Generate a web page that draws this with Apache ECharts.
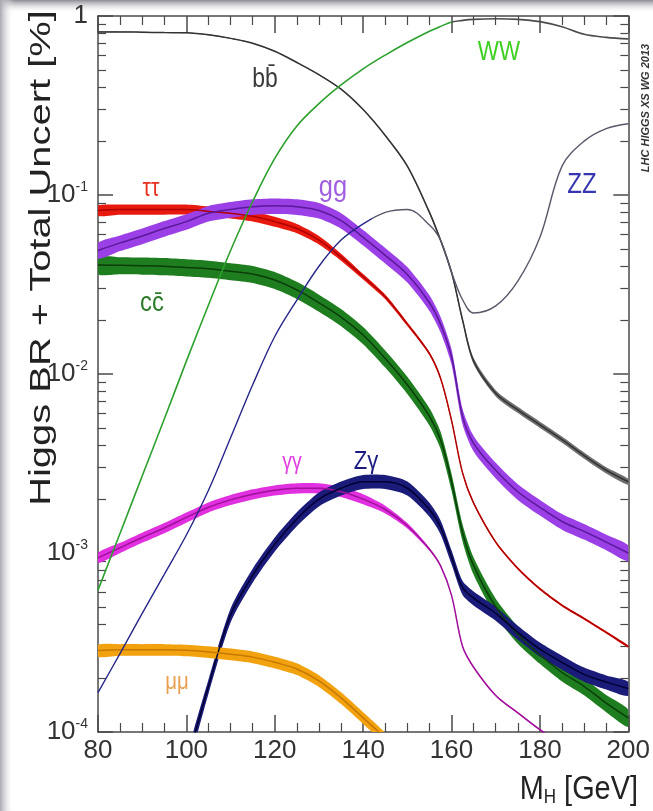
<!DOCTYPE html>
<html><head><meta charset="utf-8">
<script src="https://cdn.jsdelivr.net/npm/echarts@6/dist/echarts.min.js"></script>
<style>html,body{margin:0;padding:0;background:#fff}#c{width:653px;height:811px}</style>
</head><body><div id="c"></div>
<script>
// Higgs mass grid (GeV)
const mass = [80,85,90,95,100,105,110,115,120,125,130,135,140,145,150,155,157.5,160,162.5,165,170,175,180,185,190,195,200];

// Branching ratios
const brBB = [0.815,0.815,0.812,0.808,0.805,0.785,0.75,0.705,0.635,0.55,0.47,0.39,0.30,0.215,0.145,0.080,0.056,0.037,0.020,0.0118,0.0078,0.0063,0.0052,0.0043,0.0035,0.0029,0.0025];
const brTT = [0.082,0.083,0.083,0.083,0.083,0.081,0.079,0.076,0.071,0.065,0.056,0.045,0.035,0.027,0.019,0.0130,0.0095,0.0055,0.0028,0.0019,0.00115,0.00082,0.00063,0.00051,0.00043,0.00036,0.00030];
const brGG = [0.049,0.054,0.059,0.065,0.071,0.079,0.083,0.086,0.087,0.086,0.082,0.072,0.058,0.046,0.036,0.025,0.019,0.0125,0.0058,0.0041,0.0029,0.0022,0.0018,0.0015,0.00132,0.00115,0.00100];
const brCC = [0.0406,0.0405,0.0403,0.0400,0.0394,0.0387,0.0375,0.0362,0.0335,0.0295,0.0250,0.0208,0.0165,0.0122,0.0087,0.0058,0.0043,0.0025,0.0013,0.00085,0.00050,0.00035,0.00027,0.000215,0.00018,0.000145,0.00012];
const brAA = [9.4e-4,1.07e-3,1.22e-3,1.38e-3,1.58e-3,1.8e-3,1.98e-3,2.13e-3,2.24e-3,2.3e-3,2.3e-3,2.2e-3,2.0e-3,1.75e-3,1.42e-3,1.05e-3,8.5e-4,5.8e-4,3.0e-4,2.3e-4,1.6e-4,1.28e-4,1.03e-4,8.5e-5,7.0e-5,6.0e-5,5.0e-5];
const brZA = [null,null,null,null,6.6e-5,1.8e-4,4.5e-4,7.5e-4,1.12e-3,1.55e-3,2.0e-3,2.3e-3,2.5e-3,2.5e-3,2.3e-3,1.75e-3,1.4e-3,9.5e-4,6.4e-4,5.6e-4,4.6e-4,3.6e-4,2.9e-4,2.45e-4,2.1e-4,1.9e-4,1.75e-4];
const brMM = [2.85e-4,2.88e-4,2.88e-4,2.88e-4,2.86e-4,2.80e-4,2.72e-4,2.62e-4,2.45e-4,2.25e-4,1.93e-4,1.55e-4,1.2e-4,9.2e-5,6.6e-5,4.6e-5,null,null,null,null,null,null,null,null,null,null,null];
const brWW = [6.2e-4,1.29e-3,2.69e-3,5.6e-3,0.0118,0.0243,0.049,0.092,0.160,0.243,0.324,0.412,0.507,0.605,0.711,0.822,0.875,0.925,0.945,0.958,0.965,0.958,0.93,0.87,0.79,0.76,0.745];
const brZZ = [1.66e-4,2.75e-4,4.6e-4,7.6e-4,1.26e-3,2.24e-3,4.4e-3,8.7e-3,0.0162,0.0259,0.040,0.056,0.069,0.080,0.083,0.068,0.056,0.037,0.026,0.0219,0.024,0.033,0.058,0.145,0.20,0.235,0.25];

// Relative total uncertainties (band half-widths)
const uncBB = [0.006,0.006,0.006,0.006,0.006,0.006,0.006,0.006,0.006,0.006,0.006,0.006,0.008,0.01,0.015,0.02,0.025,0.03,0.035,0.04,0.04,0.04,0.04,0.04,0.04,0.04,0.04];
const uncTT = [0.065,0.065,0.065,0.065,0.065,0.065,0.065,0.065,0.065,0.06,0.055,0.045,0.035,0.03,0.025,0.02,0.02,0.018,0.015,0.015,0.015,0.015,0.015,0.015,0.015,0.015,0.015];
const uncGG = [0.10,0.10,0.10,0.10,0.10,0.10,0.10,0.10,0.10,0.10,0.10,0.10,0.10,0.10,0.10,0.10,0.10,0.10,0.10,0.10,0.10,0.10,0.10,0.10,0.10,0.10,0.10];
const uncCC = [0.11,0.11,0.11,0.11,0.11,0.11,0.11,0.11,0.11,0.11,0.11,0.11,0.11,0.11,0.11,0.11,0.11,0.11,0.11,0.11,0.11,0.11,0.11,0.11,0.11,0.11,0.11];
const uncAA = [0.065,0.065,0.065,0.065,0.065,0.065,0.065,0.065,0.065,0.065,0.065,0.065,0.065,0.05,0.035,0.02,0.015,0.01,0.01,0.01,0.01,0.01,0.01,0.01,0.01,0.01,0.01];
const uncZA = [0.09,0.09,0.09,0.09,0.09,0.09,0.09,0.09,0.09,0.09,0.09,0.09,0.09,0.09,0.09,0.09,0.09,0.09,0.09,0.09,0.09,0.09,0.09,0.09,0.09,0.09,0.09];
const uncMM = [0.075,0.075,0.075,0.075,0.075,0.075,0.075,0.075,0.075,0.075,0.075,0.075,0.075,0.075,0.075,0.075,0.075,0.075,0.075,0.075,0.075,0.075,0.075,0.075,0.075,0.075,0.075];

// Axis ticks
const xTicksMajor = [80,100,120,140,160,180,200];
const yTicksMajor = [1e-4,1e-3,1e-2,1e-1,1];
const yTicksMinor = [];
for (let d = -4; d < 0; d++) { for (let k = 2; k <= 9; k++) yTicksMinor.push(k * Math.pow(10, d)); }

// Masses where the thin WW / ZZ curves change colour in the picture
const wwColourSwitch = 160;
const zzColourSwitch = 142;

const FONT = '"Liberation Sans",Arial,Helvetica,sans-serif';
const SM = 0.35;

function pairs(vals) { return mass.map((m, i) => [m, vals[i] == null ? '-' : vals[i]]); }

function bandSeries(id, vals, unc, color) {
  const rows = [];
  mass.forEach((m, i) => { if (vals[i] != null) rows.push([m, vals[i] * (1 - unc[i]), vals[i] * (1 + unc[i])]); });
  return {
    type: 'custom', name: id + ' band', coordinateSystem: 'cartesian2d', xAxisIndex: 0, yAxisIndex: 0,
    data: rows, encode: { x: 0, y: [1, 2] }, silent: true, clip: true,
    renderItem: function (params, api) {
      if (params.dataIndex !== 0) return null;
      const top = rows.map(r => api.coord([r[0], r[2]]));
      const bot = rows.map(r => api.coord([r[0], r[1]])).reverse();
      const cs = params.coordSys;
      return {
        type: 'group',
        clipPath: { type: 'rect', shape: { x: cs.x, y: cs.y, width: cs.width, height: cs.height } },
        children: [{ type: 'polygon', shape: { points: top.concat(bot), smooth: 0.25 }, style: { fill: color, stroke: null } }]
      };
    }
  };
}
function centerLine(id, vals, color) {
  return { type: 'line', name: id, data: pairs(vals), symbol: 'none', smooth: SM,
    lineStyle: { width: 1.5, color: color } };
}

const series = [
  bandSeries('bb', brBB, uncBB, '#707070'), centerLine('bb', brBB, '#333333'),
  bandSeries('tautau', brTT, uncTT, '#e8190f'), centerLine('tautau', brTT, '#b00000'),
  bandSeries('cc', brCC, uncCC, '#1e7d1e'), centerLine('cc', brCC, '#0b3d0b'),
  bandSeries('gg', brGG, uncGG, '#9b3fe6'), centerLine('gg', brGG, '#5a1a9a'),
  bandSeries('gamgam', brAA, uncAA, '#e030e0'), centerLine('gamgam', brAA, '#a0109a'),
  bandSeries('Zgam', brZA, uncZA, '#1b1b7a'), centerLine('Zgam', brZA, '#000033'),
  bandSeries('mumu', brMM, uncMM, '#f2a20f'), centerLine('mumu', brMM, '#c77800')
];
const wwSeries = { type: 'line', name: 'WW', data: pairs(brWW), symbol: 'none', smooth: SM, lineStyle: { width: 1.6, color: '#2ca02c' } };
const zzSeries = { type: 'line', name: 'ZZ', data: pairs(brZZ), symbol: 'none', smooth: SM, lineStyle: { width: 1.4, color: '#26268a' } };
series.push(wwSeries, zzSeries);

const axisLineStyle = { color: '#4a4a4a', width: 1.5 };

function yLabel(v) {
  const e = Math.round(Math.log10(v));
  if (e === 0) return '{b|1}';
  return '{b|10}{s|' + e + '}';
}

const option = {
  animation: false,
  backgroundColor: '#ffffff',
  grid: { left: 98, right: 16, top: 16, bottom: 79, containLabel: false },
  xAxis: [
    { type: 'value', min: 80, max: 200, interval: 20, position: 'bottom',
      axisLine: { show: true, lineStyle: axisLineStyle },
      axisTick: { show: true, inside: true, length: 17, lineStyle: axisLineStyle },
      minorTick: { show: true, splitNumber: 4, length: 9, lineStyle: { color: '#4a4a4a', width: 1.2 } },
      splitLine: { show: false },
      axisLabel: { show: true, margin: 6, fontSize: 26, color: '#333', fontFamily: FONT, customValues: xTicksMajor } },
    { type: 'value', min: 80, max: 200, interval: 20, position: 'top',
      axisLine: { show: true, lineStyle: axisLineStyle },
      axisTick: { show: true, inside: true, length: 17, lineStyle: axisLineStyle },
      minorTick: { show: true, splitNumber: 4, length: 9, lineStyle: { color: '#4a4a4a', width: 1.2 } },
      splitLine: { show: false }, axisLabel: { show: false } }
  ],
  yAxis: [
    { type: 'log', logBase: 10, min: 1e-4, max: 1, position: 'left',
      axisLine: { show: true, lineStyle: axisLineStyle },
      axisTick: { show: true, inside: true, length: 15, lineStyle: axisLineStyle, customValues: yTicksMajor },
      splitLine: { show: false },
      axisLabel: { show: true, margin: 10, color: '#333', fontFamily: FONT, customValues: yTicksMajor,
        formatter: yLabel,
        rich: { b: { fontSize: 26, fontFamily: FONT, color: '#333', lineHeight: 30 },
                s: { fontSize: 14, fontFamily: FONT, color: '#333', verticalAlign: 'top', lineHeight: 14 } } } },
    { type: 'log', logBase: 10, min: 1e-4, max: 1, position: 'left',
      axisLine: { show: false },
      axisTick: { show: true, inside: true, length: 8, lineStyle: { color: '#4a4a4a', width: 1.2 }, customValues: yTicksMinor },
      splitLine: { show: false }, axisLabel: { show: false } },
    { type: 'log', logBase: 10, min: 1e-4, max: 1, position: 'right',
      axisLine: { show: true, lineStyle: axisLineStyle },
      axisTick: { show: true, inside: true, length: 15, lineStyle: axisLineStyle, customValues: yTicksMajor },
      splitLine: { show: false }, axisLabel: { show: false } },
    { type: 'log', logBase: 10, min: 1e-4, max: 1, position: 'right',
      axisLine: { show: false },
      axisTick: { show: true, inside: true, length: 8, lineStyle: { color: '#4a4a4a', width: 1.2 }, customValues: yTicksMinor },
      splitLine: { show: false }, axisLabel: { show: false } }
  ],
  series: series,
  graphic: [
    { type: 'rect', z: -1, shape: { x: 0, y: 0, width: 653, height: 13 },
      style: { fill: new echarts.graphic.LinearGradient(0, 0, 0, 1, [{ offset: 0, color: '#8c8c94' }, { offset: 1, color: 'rgba(255,255,255,0)' }]) } },
    { type: 'rect', z: -1, shape: { x: 0, y: 0, width: 14, height: 811 },
      style: { fill: new echarts.graphic.LinearGradient(0, 0, 1, 0, [{ offset: 0, color: '#a8a8b0' }, { offset: 1, color: 'rgba(255,255,255,0)' }]) } },
    { type: 'text', z: 100, x: 42, y: 258, rotation: Math.PI / 2, scaleX: 1.33,
      style: { text: 'Higgs BR + Total Uncert [%]', fontSize: 30, fontFamily: FONT, fill: '#222', align: 'center', verticalAlign: 'middle' } },
    { type: 'text', z: 100, x: 638, y: 790, scaleX: 0.85,
      style: { text: 'M{h|H} [GeV]', fontSize: 34, fontFamily: FONT, fill: '#222', align: 'right', verticalAlign: 'middle',
        rich: { h: { fontSize: 20, fontFamily: FONT, fill: '#222', verticalAlign: 'bottom', padding: [14, 0, 0, 0] } } } },
    { type: 'text', z: 100, x: 646, y: 108, rotation: Math.PI / 2,
      style: { text: 'LHC HIGGS XS WG 2013', fontSize: 11, fontStyle: 'italic', fontWeight: 'bold', fontFamily: FONT, fill: '#333', align: 'center', verticalAlign: 'middle' } },
    { type: 'text', z: 100, x: 265, y: 80, scaleX: 0.85, style: { text: 'bb\u0304', fontSize: 27, fontFamily: FONT, fill: '#3a3a3a', align: 'center', verticalAlign: 'middle' } },
    { type: 'text', z: 100, x: 499, y: 52, scaleX: 0.8, style: { text: 'WW', fontSize: 28, fontFamily: FONT, fill: '#3fcf22', align: 'center', verticalAlign: 'middle' } },
    { type: 'text', z: 100, x: 151, y: 189, scaleX: 0.85, style: { text: '\u03C4\u03C4', fontSize: 25, fontFamily: FONT, fill: '#e83020', align: 'center', verticalAlign: 'middle' } },
    { type: 'text', z: 100, x: 333, y: 188, scaleX: 0.85, style: { text: 'gg', fontSize: 30, fontFamily: FONT, fill: '#a060e0', align: 'center', verticalAlign: 'middle' } },
    { type: 'text', z: 100, x: 582, y: 185, scaleX: 0.8, style: { text: 'ZZ', fontSize: 30, fontFamily: FONT, fill: '#3636b0', align: 'center', verticalAlign: 'middle' } },
    { type: 'text', z: 100, x: 152, y: 303, scaleX: 0.85, style: { text: 'cc\u0304', fontSize: 28, fontFamily: FONT, fill: '#2a7a2a', align: 'center', verticalAlign: 'middle' } },
    { type: 'text', z: 100, x: 292, y: 463, scaleX: 0.85, style: { text: '\u03B3\u03B3', fontSize: 23, fontFamily: FONT, fill: '#e040e0', align: 'center', verticalAlign: 'middle' } },
    { type: 'text', z: 100, x: 366, y: 462, scaleX: 0.85, style: { text: 'Z\u03B3', fontSize: 26, fontFamily: FONT, fill: '#1a1a80', align: 'center', verticalAlign: 'middle' } },
    { type: 'text', z: 100, x: 177, y: 682, scaleX: 0.85, style: { text: '\u03BC\u03BC', fontSize: 24, fontFamily: FONT, fill: '#e8a050', align: 'center', verticalAlign: 'middle' } }
  ]
};

const chart = echarts.init(document.getElementById('c'), null, { renderer: 'canvas' });
chart.setOption(option);

// Two-tone WW / ZZ curves: colour switch positioned through the x axis scale
function splitGradient(switchMass, c1, c2) {
  const x0 = chart.convertToPixel({ xAxisIndex: 0 }, 80);
  const x1 = chart.convertToPixel({ xAxisIndex: 0 }, 200);
  const xs = chart.convertToPixel({ xAxisIndex: 0 }, switchMass);
  const t = Math.min(1, Math.max(0, (xs - x0) / (x1 - x0)));
  return new echarts.graphic.LinearGradient(x0, 0, x1, 0, [
    { offset: 0, color: c1 }, { offset: t, color: c1 }, { offset: Math.min(1, t + 0.001), color: c2 }, { offset: 1, color: c2 }
  ], true);
}
wwSeries.lineStyle.color = splitGradient(wwColourSwitch, '#2ca02c', '#4a4a4a');
zzSeries.lineStyle.color = splitGradient(zzColourSwitch, '#26268a', '#58586a');
chart.setOption({ series: series });
</script>
</body></html>
